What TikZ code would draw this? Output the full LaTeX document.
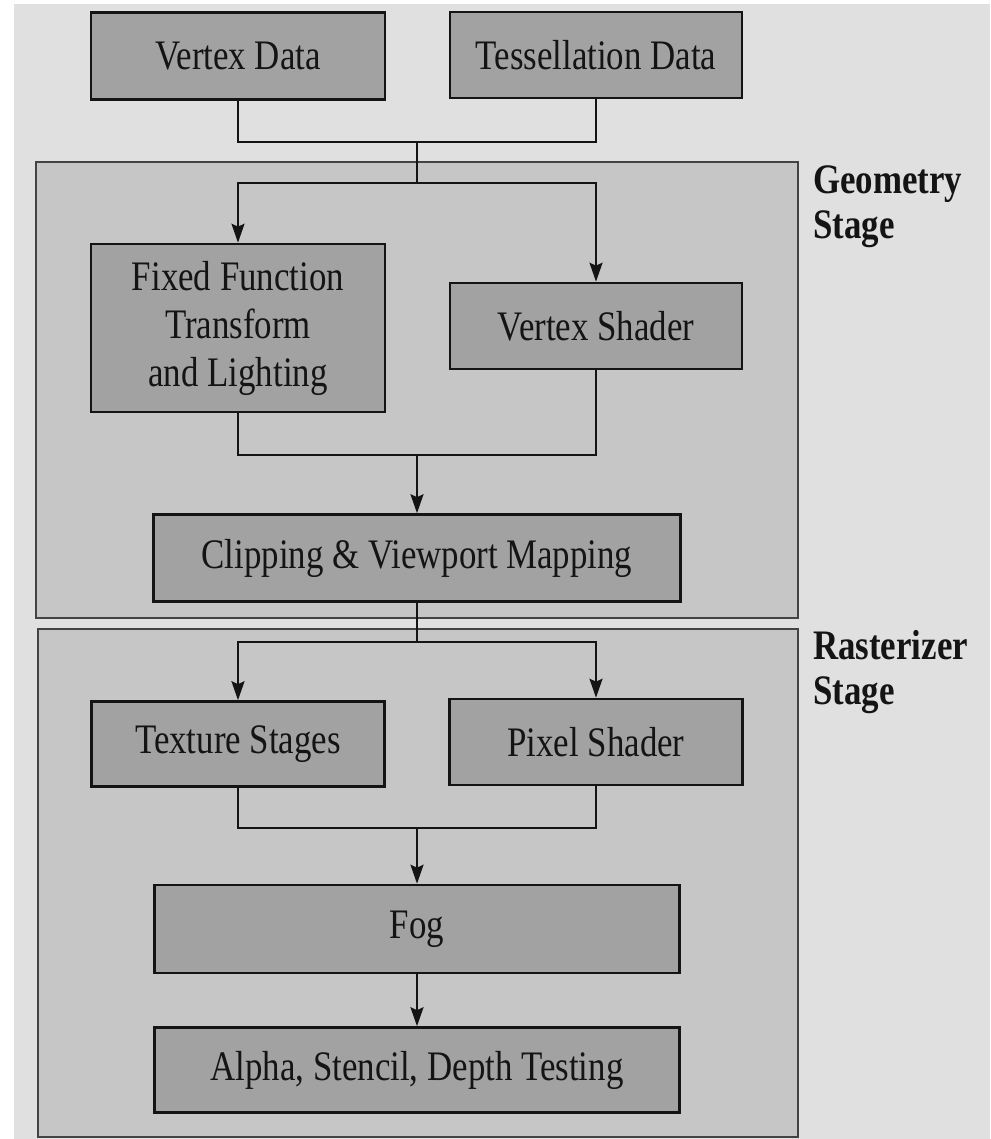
\documentclass[tikz,border=0pt]{standalone}
\usepackage{fontspec}
\setmainfont{Liberation Serif}[FakeStretch=0.83]
\usetikzlibrary{arrows.meta}
\definecolor{boxfill}{RGB}{162,162,162}
\definecolor{panelfill}{RGB}{198,198,198}
\definecolor{pagebg}{RGB}{224,224,224}
\definecolor{ink}{RGB}{20,20,20}
\tikzset{
  stagebox/.style={draw=ink, line width=2.6pt, fill=boxfill, inner sep=0pt,
    align=center, font=\fontsize{42}{48}\selectfont, text=ink},
  panel/.style={draw=ink!80, line width=1.8pt, fill=panelfill},
  link/.style={draw=ink, line width=2.2pt},
  flow/.style={link, -{Stealth[length=19pt,width=13pt,inset=3pt]}},
  stagelabel/.style={anchor=west, align=left, inner sep=0pt,
    font=\fontsize{42}{45}\selectfont\bfseries, text=ink}
}
\begin{document}
\begin{tikzpicture}[x=1pt,y=-1pt]
\useasboundingbox (0,0) rectangle (990,1139);
\fill[white] (0,0) rectangle (990,1139);
\fill[pagebg] (14,4) rectangle (990,1139);
% panels
\draw[panel] (36,162) rectangle (798,618);
\draw[panel] (38,629) rectangle (798,1137);
% boxes
\node[stagebox, minimum width=294pt, minimum height=87pt] (vd) at (238,56) {Vertex Data};
\node[stagebox, minimum width=292pt, minimum height=86pt] (td) at (596,55) {Tessellation Data};
\node[stagebox, minimum width=294pt, minimum height=168pt] (ff) at (238,328) {Fixed Function\\Transform\\and Lighting};
\node[stagebox, minimum width=292pt, minimum height=86pt] (vs) at (596,326) {Vertex Shader};
\node[stagebox, minimum width=527pt, minimum height=87pt] (cv) at (417,558) {Clipping \& Viewport Mapping};
\node[stagebox, minimum width=293pt, minimum height=85pt] (ts) at (238,744) {Texture Stages};
\node[stagebox, minimum width=293pt, minimum height=86pt] (ps) at (596,742) {Pixel Shader};
\node[stagebox, minimum width=525pt, minimum height=88pt] (fog) at (417,929) {Fog};
\node[stagebox, minimum width=525pt, minimum height=85pt] (ast) at (417,1070) {Alpha, Stencil, Depth Testing};
% labels
\node[stagelabel] (geo) at (813,207) {Geometry\\Stage};
\node[stagelabel] (ras) at (813,672) {Rasterizer\\Stage};
% junction points
\coordinate (j1) at (417,142);
\coordinate (s1) at (417,183);
\coordinate (j2) at (417,455);
\coordinate (s2) at (417,642);
\coordinate (j3) at (417,828);
% connectors
\draw[link] (vd.south) |- (j1) -| (td.south);
\draw[link] (j1) -- (s1);
\draw[flow] (s1) -| (ff.north);
\draw[flow] (s1) -| (vs.north);
\draw[link] (ff.south) |- (j2) -| (vs.south);
\draw[flow] (j2) -- (cv.north);
\draw[link] (cv.south) -- (s2);
\draw[flow] (s2) -| (ts.north);
\draw[flow] (s2) -| (ps.north);
\draw[link] (ts.south) |- (j3) -| (ps.south);
\draw[flow] (j3) -- (fog.north);
\draw[flow] (fog.south) -- (ast.north);
\end{tikzpicture}
\end{document}
